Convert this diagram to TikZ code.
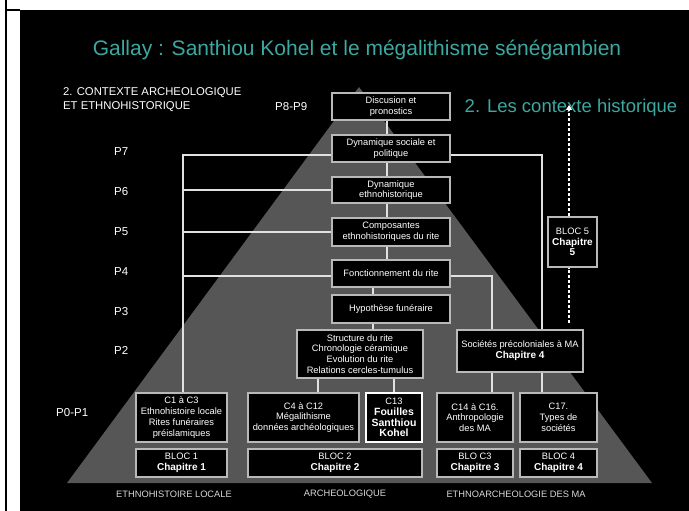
\documentclass[tikz,border=0pt]{standalone}
\usepackage{fontspec}
\setmainfont{Liberation Sans}
\usetikzlibrary{arrows.meta}
\definecolor{tealtxt}{RGB}{60,168,160}
\definecolor{pyrcol}{RGB}{86,86,86}
\definecolor{bordcol}{RGB}{185,185,185}
\definecolor{conncol}{RGB}{225,225,225}
\begin{document}
\begin{tikzpicture}[x=1pt,y=-1pt,
  box/.style={draw=bordcol, line width=1.3pt, fill=black, text=white, inner sep=0pt, align=center,
    font=\fontsize{9.3}{10.8}\selectfont},
  mainbox/.style={box, draw=white, line width=1.8pt},
  link/.style={draw=conncol, line width=1.8pt},
  plabel/.style={text=white, anchor=west, inner sep=0pt, font=\fontsize{11.5}{13}\selectfont},
  foot/.style={text=white!85!black, inner sep=0pt, font=\fontsize{9.3}{11}\selectfont},
  dashlink/.style={draw=white, line width=1.6pt, dash pattern=on 3pt off 2pt}]
\useasboundingbox (0,0) rectangle (689,511);
\fill[white] (0,0) rectangle (689,511);
\fill[black] (20,10) rectangle (689,511);
\draw[line width=2pt] (6,0) -- (6,511);
\draw[line width=2pt] (6,10) -- (20,10);
% pyramid
\fill[pyrcol] (67,483) -- (652,483) -- (359,87) -- cycle;
% title
\node[text=tealtxt, inner sep=0pt, font=\fontsize{21}{24}\selectfont] (title) at (357,50)
  {Gallay : Santhiou Kohel et le mégalithisme sénégambien};
\node[text=tealtxt, inner sep=0pt, font=\fontsize{18.5}{22}\selectfont] (subt) at (571,108)
  {2. Les contexte historique};
\node[text=white, anchor=west, inner sep=0pt, align=left, font=\fontsize{11.3}{14}\selectfont] (ctx) at (63,100)
  {2. CONTEXTE ARCHEOLOGIQUE\\ET ETHNOHISTORIQUE};
% level labels
\node[plabel] (p89) at (275,107) {P8-P9};
\node[plabel] (p7) at (114,152) {P7};
\node[plabel] (p6) at (114,192) {P6};
\node[plabel] (p5) at (114,232) {P5};
\node[plabel] (p4) at (114,272) {P4};
\node[plabel] (p3) at (114,312) {P3};
\node[plabel] (p2) at (114,350) {P2};
\node[plabel] (p01) at (56,413) {P0-P1};
% footer labels
\node[foot] (f1) at (174,494) {ETHNOHISTOIRE LOCALE};
\node[foot] (f2) at (345,494) {ARCHEOLOGIQUE};
\node[foot] (f3) at (516,494) {ETHNOARCHEOLOGIE DES MA};
% central column
\node[box, minimum width=118, minimum height=27] (disc) at (391,106.5) {Discusion et\\pronostics};
\node[box, minimum width=118, minimum height=27] (dsp) at (391,148.5) {Dynamique sociale et\\politique};
\node[box, minimum width=118, minimum height=26] (deth) at (391,190) {Dynamique\\ethnohistorique};
\node[box, minimum width=118, minimum height=28] (comp) at (391,232) {Composantes\\ethnohistoriques du rite};
\node[box, minimum width=118, minimum height=27] (fonc) at (391,273.5) {Fonctionnement du rite};
\node[box, minimum width=118, minimum height=28] (hyp) at (391,309) {Hypothèse funéraire};
\node[box, minimum width=126, minimum height=48] (struct) at (360,354)
  {Structure du rite\\Chronologie céramique\\Evolution du rite\\Relations cercles-tumulus};
\node[box, minimum width=126, minimum height=42] (soc) at (520,351)
  {Sociétés précoloniales à MA\\{\fontsize{10}{12}\selectfont\bfseries Chapitre 4}};
\node[box, minimum width=49, minimum height=50] (bloc5) at (572.5,242)
  {BLOC 5\\{\fontsize{10}{11.5}\selectfont\bfseries Chapitre}\\{\fontsize{10}{11.5}\selectfont\bfseries 5}};
% bottom row
\node[box, minimum width=91, minimum height=49] (c1) at (181.5,417.5)
  {C1 à C3\\Ethnohistoire locale\\Rites funéraires\\préislamiques};
\node[box, minimum width=111, minimum height=49] (c4) at (303.5,417.5)
  {C4 à C12\\Mégalithisme\\données archéologiques};
\node[mainbox, minimum width=56, minimum height=49] (c13) at (394,417.5)
  {C13\\{\fontsize{10.5}{12.3}\selectfont\bfseries Fouilles}\\{\fontsize{10.5}{12.3}\selectfont\bfseries Santhiou}\\{\fontsize{10.5}{12.3}\selectfont\bfseries Kohel}};
\node[box, minimum width=76, minimum height=49] (c14) at (475,417.5)
  {C14 à C16.\\Anthropologie\\des MA};
\node[box, minimum width=77, minimum height=49] (c17) at (558.5,417.5)
  {C17.\\Types de\\sociétés};
\node[box, minimum width=91, minimum height=28] (b1) at (181.5,463)
  {BLOC 1\\{\fontsize{10}{12}\selectfont\bfseries Chapitre 1}};
\node[box, minimum width=174, minimum height=28] (b2) at (335,463)
  {BLOC 2\\{\fontsize{10}{12}\selectfont\bfseries Chapitre 2}};
\node[box, minimum width=76, minimum height=28] (b3) at (475,463)
  {BLO C3\\{\fontsize{10}{12}\selectfont\bfseries Chapitre 3}};
\node[box, minimum width=77, minimum height=28] (b4) at (558.5,463)
  {BLOC 4\\{\fontsize{10}{12}\selectfont\bfseries Chapitre 4}};
% central connectors
\draw[link] ([xshift=-4pt]disc.south) -- ([xshift=-4pt]dsp.north);
\draw[link] ([xshift=-4pt]dsp.south) -- ([xshift=-4pt]deth.north);
\draw[link] ([xshift=-4pt]deth.south) -- ([xshift=-4pt]comp.north);
\draw[link] ([xshift=-4pt]comp.south) -- ([xshift=-4pt]fonc.north);
\draw[link] ([xshift=-18pt]fonc.south) -- ([xshift=-18pt]hyp.north);
\draw[link] ([xshift=-18pt]hyp.south) -- ([xshift=13pt]struct.north);
% left bracket
\draw[link] ([yshift=-6.5pt]dsp.west) -| ([xshift=1.5pt]c1.north);
\draw[link] (deth.west) -- (deth.west -| c1.north);
\draw[link] (comp.west) -- (comp.west -| c1.north);
\draw[link] ([yshift=-2.5pt]fonc.west) -- ([yshift=-2.5pt]fonc.west -| c1.north);
% right side
\draw[link] ([yshift=-6.5pt]dsp.east) -| ([xshift=22pt]soc.north);
\draw[link] ([yshift=-2.5pt]fonc.east) -| ([xshift=-28pt]soc.north);
\draw[link] ([xshift=-28pt]soc.south) -- ([xshift=-28pt]soc.south |- c14.north);
\draw[link] ([xshift=22pt]soc.south) -- ([xshift=22pt]soc.south |- c17.north);
% structure to bottom
\draw[link] ([xshift=-42pt]struct.south) -- ([xshift=-42pt]struct.south |- c4.north);
\draw[link] ([xshift=34pt]struct.south) -- (c13.north);
% dashed arrow
\coordinate (dlow) at (569,323);
\coordinate (dtop) at (569,105);
\draw[dashlink] (dlow) -- ([xshift=-3.5pt]bloc5.south);
\draw[dashlink, -{Triangle[width=6pt,length=5pt]}] ([xshift=-3.5pt]bloc5.north) -- (dtop);
\end{tikzpicture}
\end{document}
